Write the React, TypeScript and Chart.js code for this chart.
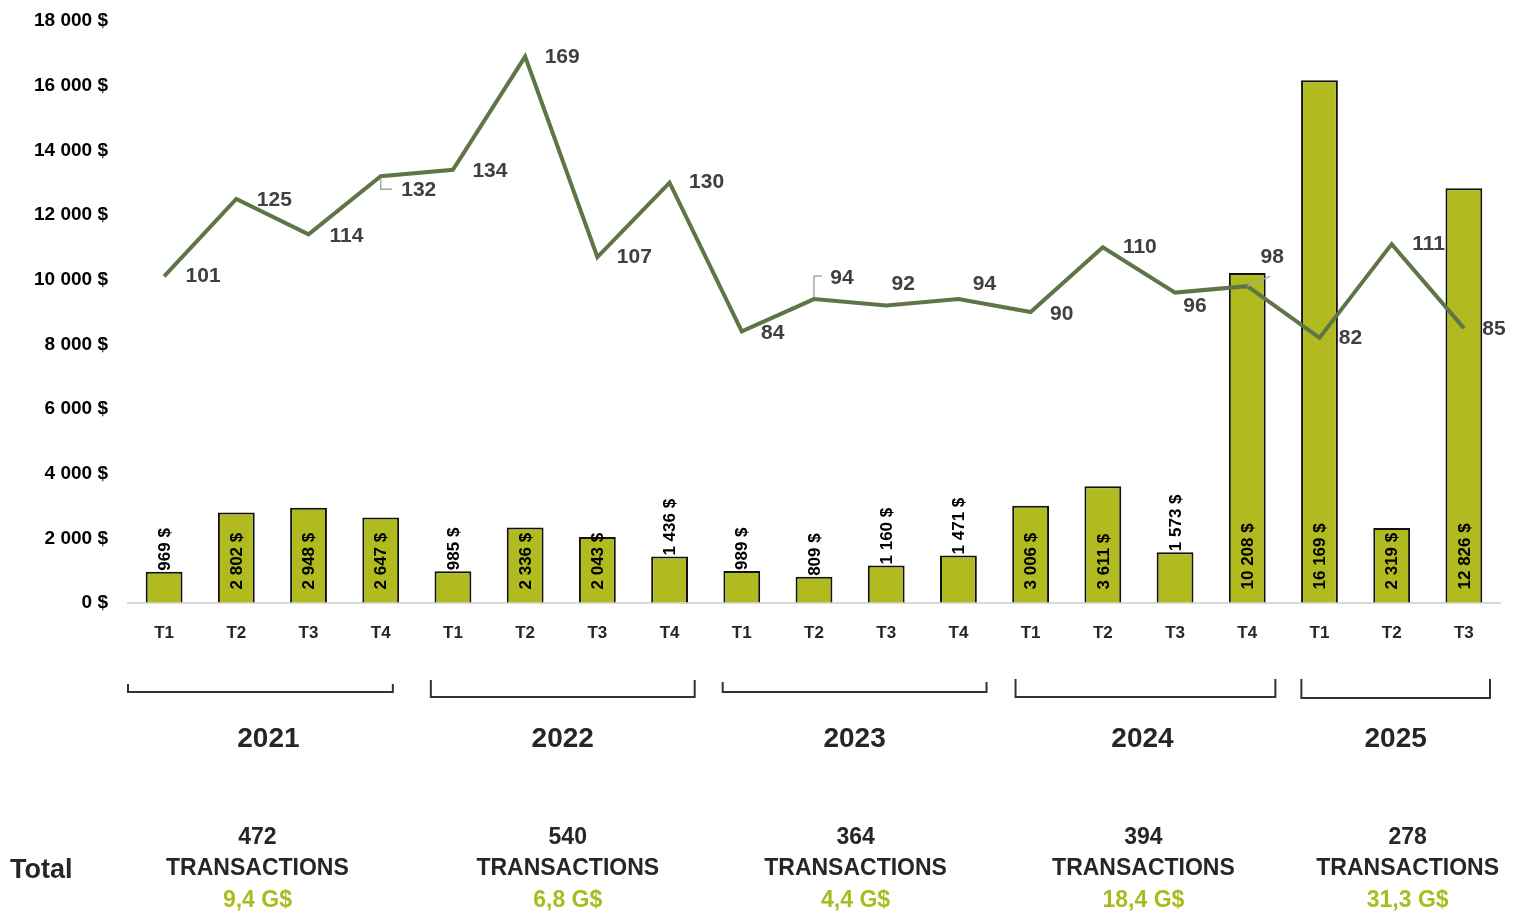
import React, { useEffect, useRef } from "react";
import { Chart, registerables } from "chart.js";

Chart.register(...registerables);

// ---- Data ----
const quarters = ["T1","T2","T3","T4","T1","T2","T3","T4","T1","T2","T3","T4","T1","T2","T3","T4","T1","T2","T3"];
const volumes = [969, 2802, 2948, 2647, 985, 2336, 2043, 1436, 989, 809, 1160, 1471, 3006, 3611, 1573, 10208, 16169, 2319, 12826];
const transactions = [101, 125, 114, 132, 134, 169, 107, 130, 84, 94, 92, 94, 90, 110, 96, 98, 82, 111, 85];
const years = ["2021", "2022", "2023", "2024", "2025"];
const quartersPerYear = [4, 4, 4, 4, 3];
const yearTransactions = [472, 540, 364, 394, 278];
const yearValues = ["9,4 G$", "6,8 G$", "4,4 G$", "18,4 G$", "31,3 G$"];
const yTicks = [0, 2000, 4000, 6000, 8000, 10000, 12000, 14000, 16000, 18000];

// ---- Styles ----
const BAR_COLOR = "#B1BA1E";
const LINE_COLOR = "#5E7548";
const GREEN_TEXT = "#AABB1F";
const DARK_TEXT = "#262626";
const FONT = '"Liberation Sans", Arial, sans-serif';
// label offsets (dx, dy) from each line point to its label centre
const lineLabelOffsets = [
  [39, 0], [38, 1], [38, 2], [38, 14], [37, 1], [37, 1], [37, 0], [37, 0], [31, 2], [28, -21],
  [17, -21], [26, -15], [31, 2], [37, 0], [20, 14], [25, -29], [31, 0], [37, 0], [30, 1],
];
// leader lines: 0 = none, 1 = down-right elbow, 2 = up-right elbow, 3 = diagonal
const lineLabelLeaders = [0, 0, 0, 1, 0, 0, 0, 0, 0, 2, 0, 0, 0, 0, 0, 3, 0, 0, 0];
const bracketInsets = [[0, 24], [14, 11], [17, 8], [21, 8], [18, 10]];
const bracketY = [[684, 692], [680, 697], [682, 692], [679, 697], [679, 698]];
const yearLabelShift = [8, 0, 0, -3, 0];
const totalShift = [-3, 5, 1, -2, 12];

const fmt = (v: number) => String(v).replace(/\B(?=(\d{3})+(?!\d))/g, " ") + " $";

const annotate = {
  id: "annotate",
  afterDatasetsDraw(chart: any) {
    const ctx = chart.ctx;
    const barMeta = chart.getDatasetMeta(1);
    const lineMeta = chart.getDatasetMeta(0);
    // bar labels
    ctx.save();
    ctx.font = `bold 17px ${FONT}`;
    ctx.fillStyle = "#000";
    ctx.textAlign = "left";
    ctx.textBaseline = "middle";
    barMeta.data.forEach((bar: any, i: number) => {
      const text = fmt(volumes[i]);
      const w = ctx.measureText(text).width;
      const h = bar.base - bar.y;
      let start: number;
      if (h > w + 8) start = bar.base - 13;
      else start = bar.y - 1;
      ctx.save();
      ctx.translate(bar.x + 1, start);
      ctx.rotate(-Math.PI / 2);
      ctx.fillText(text, 0, 0);
      ctx.restore();
    });
    ctx.restore();
    // line labels
    ctx.save();
    ctx.font = `bold 21px ${FONT}`;
    ctx.fillStyle = "#404040";
    ctx.textAlign = "center";
    ctx.textBaseline = "middle";
    ctx.strokeStyle = "#A6A6A6";
    ctx.lineWidth = 1.5;
    lineMeta.data.forEach((pt: any, i: number) => {
      const [dx, dy] = lineLabelOffsets[i];
      const lx = pt.x + dx;
      const ly = pt.y + dy;
      const lead = lineLabelLeaders[i];
      if (lead === 1) {
        ctx.beginPath();
        ctx.moveTo(pt.x, pt.y + 2);
        ctx.lineTo(pt.x, ly - 1);
        ctx.lineTo(lx - 27, ly - 1);
        ctx.stroke();
      } else if (lead === 2) {
        ctx.beginPath();
        ctx.moveTo(pt.x, pt.y - 2);
        ctx.lineTo(pt.x, ly - 2);
        ctx.lineTo(lx - 20, ly - 2);
        ctx.stroke();
      } else if (lead === 3) {
        ctx.beginPath();
        ctx.moveTo(pt.x, pt.y);
        ctx.lineTo(lx - 2, ly + 19);
        ctx.stroke();
      }
      ctx.fillText(String(transactions[i]), lx, ly);
    });
    ctx.restore();
  },
  afterDraw(chart: any) {
    const ctx = chart.ctx;
    const x = chart.scales.x;
    const step = x.width / quarters.length;
    let idx = 0;
    ctx.save();
    years.forEach((yr, g) => {
      const first = idx;
      const last = idx + quartersPerYear[g] - 1;
      idx += quartersPerYear[g];
      const left = x.getPixelForValue(first) - step / 2 + bracketInsets[g][0];
      const right = x.getPixelForValue(last) + step / 2 - bracketInsets[g][1];
      const [yt, yb] = bracketY[g];
      ctx.strokeStyle = "#333";
      ctx.lineWidth = 2;
      ctx.beginPath();
      ctx.moveTo(left, yt);
      ctx.lineTo(left, yb);
      ctx.lineTo(right, yb);
      ctx.lineTo(right, yt);
      ctx.stroke();
      const cx = (left + right) / 2;
      ctx.textAlign = "center";
      ctx.textBaseline = "middle";
      ctx.fillStyle = DARK_TEXT;
      ctx.font = `bold 28px ${FONT}`;
      ctx.fillText(yr, cx + yearLabelShift[g], 739);
      const tx = cx + totalShift[g];
      ctx.font = `bold 23px ${FONT}`;
      ctx.fillText(String(yearTransactions[g]), tx, 838);
      ctx.fillText("TRANSACTIONS", tx, 869);
      ctx.fillStyle = GREEN_TEXT;
      ctx.fillText(yearValues[g], tx, 901);
    });
    ctx.fillStyle = DARK_TEXT;
    ctx.font = `bold 27px ${FONT}`;
    ctx.textAlign = "left";
    ctx.fillText("Total", 10, 871);
    ctx.restore();
  },
};

export default function App() {
  const ref = useRef<HTMLCanvasElement>(null);
  useEffect(() => {
    document.body.style.margin = "0";
    const chart = new Chart(ref.current!, {
      type: "bar",
      data: {
        labels: quarters,
        datasets: [
          {
            type: "line",
            label: "Transactions",
            data: transactions,
            yAxisID: "y1",
            borderColor: LINE_COLOR,
            borderWidth: 4,
            pointRadius: 0,
            tension: 0,
            order: 0,
          } as any,
          {
            type: "bar",
            label: "Volume",
            data: volumes,
            yAxisID: "y",
            backgroundColor: BAR_COLOR,
            borderColor: "#111",
            borderWidth: 2,
            barPercentage: 0.51,
            categoryPercentage: 1,
            order: 1,
          },
        ],
      },
      options: {
        responsive: false,
        animation: false,
        layout: { padding: { top: 21, right: 23, left: 0, bottom: 250 } },
        plugins: { legend: { display: false }, tooltip: { enabled: false } },
        scales: {
          x: {
            grid: { display: false, drawTicks: false },
            border: { display: true, color: "#D9D9D9", width: 2 },
            ticks: { color: DARK_TEXT, font: { family: FONT, size: 17, weight: "bold" }, padding: 20 },
            afterFit: (s: any) => { s.height = 60; },
          },
          y: {
            min: 0,
            max: 18000,
            afterBuildTicks: (s: any) => { s.ticks = yTicks.map((v) => ({ value: v })); },
            grid: {
              display: true,
              drawOnChartArea: false,
              drawTicks: true,
              tickLength: 20,
              color: "rgba(0,0,0,0)",
            },
            border: { display: false },
            ticks: {
              color: "#000",
              font: { family: FONT, size: 19, weight: "bold" },
              padding: 0,
              callback: (v: any) => fmt(Number(v)),
            },
            afterFit: (s: any) => { s.width = 128; },
          },
          y1: { display: false, min: 0, max: 180 },
        },
      },
      plugins: [annotate],
    });
    return () => chart.destroy();
  }, []);
  return (
    <div style={{ position: "absolute", left: 0, top: 0, width: 1523, height: 913, background: "#fff" }}>
      <canvas ref={ref} width={1523} height={913} style={{ width: 1523, height: 913 }} />
    </div>
  );
}
